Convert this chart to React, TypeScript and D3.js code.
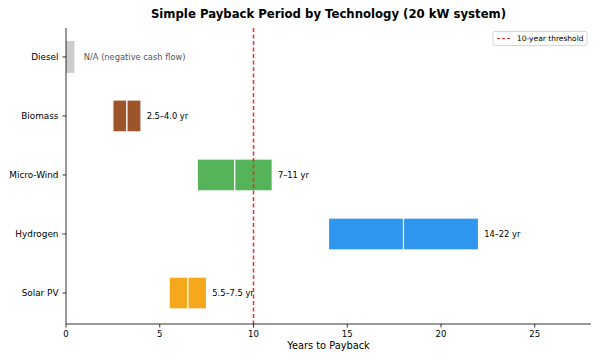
import React from "react";
import * as d3 from "d3";

const technologies = ["Solar PV", "Hydrogen", "Micro-Wind", "Biomass", "Diesel"];
const lowValues: (number | null)[] = [5.5, 14, 7, 2.5, null];
const highValues: (number | null)[] = [7.5, 22, 11, 4.0, null];
const labels = ["5.5–7.5 yr", "14–22 yr", "7–11 yr", "2.5–4.0 yr", "N/A (negative cash flow)"];
const colors = ["#f5a81c", "#2e96ee", "#55b45a", "#9c5428", "#cccccc"];
const naBarValue = 0.45;
const threshold = 10;
const xTicks = [0, 5, 10, 15, 20, 25];

const W = 600;
const H = 360;
const M = { left: 66, right: 591, top: 28, bottom: 324 };
const FONT = "DejaVu Sans, sans-serif";

export default function App() {
  const x = d3.scaleLinear().domain([0, 28]).range([M.left, M.right]);
  const y = d3.scaleLinear().domain([-0.525, 4.49]).range([M.bottom, M.top]);
  const barH = y(0) - y(0.54);

  return (
    <svg width={W} height={H} style={{ position: "absolute", left: 0, top: 0, background: "#fff" }} fontFamily={FONT}>
      <text x={(M.left + M.right) / 2} y={18} textAnchor="middle" fontSize={11.7} fontWeight="bold" fill="#000">
        Simple Payback Period by Technology (20 kW system)
      </text>
      {technologies.map((t, i) => {
        const cy = y(i);
        const lo = lowValues[i];
        const hi = highValues[i];
        if (lo == null || hi == null) {
          return (
            <g key={t}>
              <rect x={x(0)} y={cy - barH / 2} width={x(naBarValue) - x(0)} height={barH} fill={colors[i]} />
              <text x={x(0.95)} y={cy} dy="0.35em" fontSize={8.3} fill="#555">
                {labels[i]}
              </text>
            </g>
          );
        }
        const mid = (lo + hi) / 2;
        return (
          <g key={t}>
            <rect x={x(lo)} y={cy - barH / 2} width={x(mid) - x(lo)} height={barH} fill={colors[i]} stroke="#fff" strokeWidth={1.2} />
            <rect x={x(mid)} y={cy - barH / 2} width={x(hi) - x(mid)} height={barH} fill={colors[i]} stroke="#fff" strokeWidth={1.2} />
            <text x={x(hi + 0.3)} y={cy} dy="0.35em" fontSize={8.3} fill="#000">
              {labels[i]}
            </text>
          </g>
        );
      })}
      <line x1={x(threshold)} x2={x(threshold)} y1={M.top} y2={M.bottom} stroke="#e8322b" strokeWidth={1.5} strokeDasharray="4,2.5" />
      {/* axes */}
      <line x1={M.left} x2={M.left} y1={M.top} y2={M.bottom} stroke="#000" strokeWidth={0.8} />
      <line x1={M.left} x2={M.right} y1={M.bottom} y2={M.bottom} stroke="#000" strokeWidth={0.8} />
      {xTicks.map((t) => (
        <g key={t}>
          <line x1={x(t)} x2={x(t)} y1={M.bottom} y2={M.bottom + 3.5} stroke="#000" strokeWidth={0.8} />
          <text x={x(t)} y={M.bottom + 13} textAnchor="middle" fontSize={8.5} fill="#000">
            {t}
          </text>
        </g>
      ))}
      {technologies.map((t, i) => (
        <g key={t}>
          <line x1={M.left - 3.5} x2={M.left} y1={y(i)} y2={y(i)} stroke="#000" strokeWidth={0.8} />
          <text x={M.left - 7.5} y={y(i)} dy="0.35em" textAnchor="end" fontSize={8.9} fill="#000">
            {t}
          </text>
        </g>
      ))}
      <text x={(M.left + M.right) / 2} y={349} textAnchor="middle" fontSize={9.8} fill="#000">
        Years to Payback
      </text>
      {/* legend */}
      <g>
        <rect x={493} y={31.5} width={94} height={14} rx={2} fill="#fff" stroke="#ccc" strokeWidth={0.8} />
        <line x1={497} x2={510} y1={38.5} y2={38.5} stroke="#e8322b" strokeWidth={1.2} strokeDasharray="3,2" />
        <text x={517} y={38.5} dy="0.35em" fontSize={7.5} fill="#000">
          10-year threshold
        </text>
      </g>
    </svg>
  );
}
